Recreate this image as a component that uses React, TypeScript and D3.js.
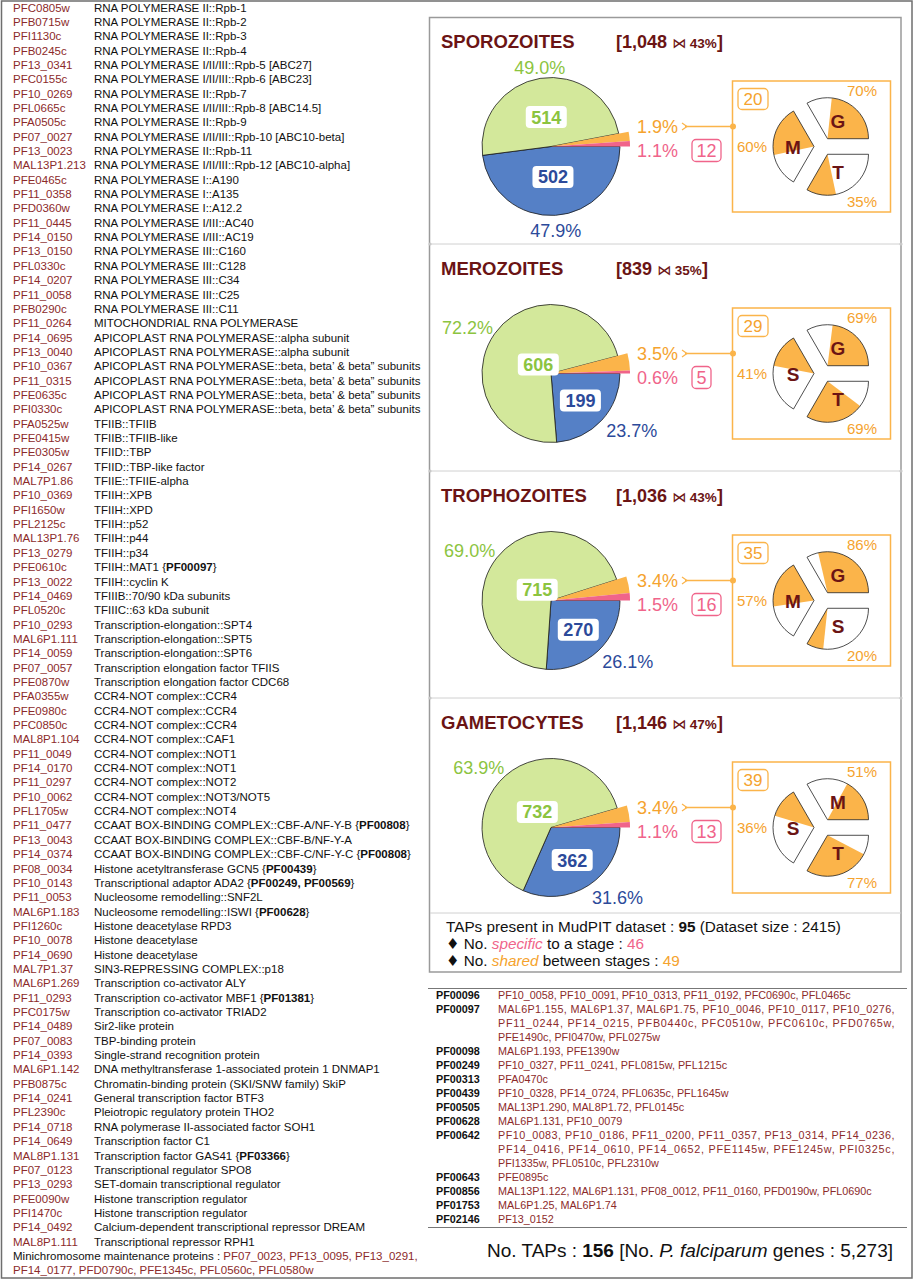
import * as d3 from "d3";

const FONT = "'Liberation Sans', Arial, sans-serif";
const RED = "#8c2a2a";
const TITLE = "#6b1414";
const GREEN_FILL = "#d3e89b";
const GREEN_TXT = "#8cc43f";
const BLUE_FILL = "#5580c6";
const BLUE_TXT = "#2c4a9a";
const ORANGE = "#fbb44a";
const ORANGE_TXT = "#f5a32e";
const PINK = "#f0648a";

// ---- left gene list ----
const geneIds = [
  "PFC0805w", "PFB0715w", "PFI1130c", "PFB0245c", "PF13_0341", "PFC0155c", "PF10_0269", "PFL0665c",
  "PFA0505c", "PF07_0027", "PF13_0023", "MAL13P1.213", "PFE0465c", "PF11_0358", "PFD0360w", "PF11_0445",
  "PF14_0150", "PF13_0150", "PFL0330c", "PF14_0207", "PF11_0058", "PFB0290c", "PF11_0264", "PF14_0695",
  "PF13_0040", "PF10_0367", "PF11_0315", "PFE0635c", "PFI0330c", "PFA0525w", "PFE0415w", "PFE0305w",
  "PF14_0267", "MAL7P1.86", "PF10_0369", "PFI1650w", "PFL2125c", "MAL13P1.76", "PF13_0279", "PFE0610c",
  "PF13_0022", "PF14_0469", "PFL0520c", "PF10_0293", "MAL6P1.111", "PF14_0059", "PF07_0057", "PFE0870w",
  "PFA0355w", "PFE0980c", "PFC0850c", "MAL8P1.104", "PF11_0049", "PF14_0170", "PF11_0297", "PF10_0062",
  "PFL1705w", "PF11_0477", "PF13_0043", "PF14_0374", "PF08_0034", "PF10_0143", "PF11_0053", "MAL6P1.183",
  "PFI1260c", "PF10_0078", "PF14_0690", "MAL7P1.37", "MAL6P1.269", "PF11_0293", "PFC0175w", "PF14_0489",
  "PF07_0083", "PF14_0393", "MAL6P1.142", "PFB0875c", "PF14_0241", "PFL2390c", "PF14_0718", "PF14_0649",
  "MAL8P1.131", "PF07_0123", "PF13_0293", "PFE0090w", "PFI1470c", "PF14_0492", "MAL8P1.111",
];

const geneDescs = [
  "RNA POLYMERASE II::Rpb-1", "RNA POLYMERASE II::Rpb-2", "RNA POLYMERASE II::Rpb-3", "RNA POLYMERASE II::Rpb-4",
  "RNA POLYMERASE I/II/III::Rpb-5 [ABC27]", "RNA POLYMERASE I/II/III::Rpb-6 [ABC23]", "RNA POLYMERASE II::Rpb-7",
  "RNA POLYMERASE I/II/III::Rpb-8 [ABC14.5]", "RNA POLYMERASE II::Rpb-9", "RNA POLYMERASE I/II/III::Rpb-10 [ABC10-beta]",
  "RNA POLYMERASE II::Rpb-11", "RNA POLYMERASE I/II/III::Rpb-12 [ABC10-alpha]", "RNA POLYMERASE I::A190",
  "RNA POLYMERASE I::A135", "RNA POLYMERASE I::A12.2", "RNA POLYMERASE I/III::AC40", "RNA POLYMERASE I/III::AC19",
  "RNA POLYMERASE III::C160", "RNA POLYMERASE III::C128", "RNA POLYMERASE III::C34", "RNA POLYMERASE III::C25",
  "RNA POLYMERASE III::C11", "MITOCHONDRIAL RNA POLYMERASE", "APICOPLAST RNA POLYMERASE::alpha subunit",
  "APICOPLAST RNA POLYMERASE::alpha subunit", "APICOPLAST RNA POLYMERASE::beta, beta’ & beta” subunits",
  "APICOPLAST RNA POLYMERASE::beta, beta’ & beta” subunits", "APICOPLAST RNA POLYMERASE::beta, beta’ & beta” subunits",
  "APICOPLAST RNA POLYMERASE::beta, beta’ & beta” subunits", "TFIIB::TFIIB", "TFIIB::TFIIB-like", "TFIID::TBP",
  "TFIID::TBP-like factor", "TFIIE::TFIIE-alpha", "TFIIH::XPB", "TFIIH::XPD", "TFIIH::p52", "TFIIH::p44",
  "TFIIH::p34", "TFIIH::MAT1 {PF00097}", "TFIIH::cyclin K", "TFIIIB::70/90 kDa subunits", "TFIIIC::63 kDa subunit",
  "Transcription-elongation::SPT4", "Transcription-elongation::SPT5", "Transcription-elongation::SPT6",
  "Transcription elongation factor TFIIS", "Transcription elongation factor CDC68", "CCR4-NOT complex::CCR4",
  "CCR4-NOT complex::CCR4", "CCR4-NOT complex::CCR4", "CCR4-NOT complex::CAF1", "CCR4-NOT complex::NOT1",
  "CCR4-NOT complex::NOT1", "CCR4-NOT complex::NOT2", "CCR4-NOT complex::NOT3/NOT5", "CCR4-NOT complex::NOT4",
  "CCAAT BOX-BINDING COMPLEX::CBF-A/NF-Y-B {PF00808}", "CCAAT BOX-BINDING COMPLEX::CBF-B/NF-Y-A",
  "CCAAT BOX-BINDING COMPLEX::CBF-C/NF-Y-C {PF00808}", "Histone acetyltransferase GCN5 {PF00439}",
  "Transcriptional adaptor ADA2 {PF00249, PF00569}", "Nucleosome remodelling::SNF2L",
  "Nucleosome remodelling::ISWI {PF00628}", "Histone deacetylase RPD3", "Histone deacetylase", "Histone deacetylase",
  "SIN3-REPRESSING COMPLEX::p18", "Transcription co-activator ALY", "Transcription co-activator MBF1 {PF01381}",
  "Transcription co-activator TRIAD2", "Sir2-like protein", "TBP-binding protein", "Single-strand recognition protein",
  "DNA methyltransferase 1-associated protein 1 DNMAP1", "Chromatin-binding protein (SKI/SNW family) SkiP",
  "General transcription factor BTF3", "Pleiotropic regulatory protein THO2", "RNA polymerase II-associated factor SOH1",
  "Transcription factor C1", "Transcription factor GAS41 {PF03366}", "Transcriptional regulator SPO8",
  "SET-domain transcriptional regulator", "Histone transcription regulator", "Histone transcription regulator",
  "Calcium-dependent transcriptional repressor DREAM", "Transcriptional repressor RPH1",
];

const mcmLabel = "Minichromosome maintenance proteins : ";
const mcmGenes = ["PF07_0023", "PF13_0095", "PF13_0291", "PF14_0177", "PFD0790c", "PFE1345c", "PFL0560c", "PFL0580w"];

// ---- stage pies ----
const stages = ["SPOROZOITES", "MEROZOITES", "TROPHOZOITES", "GAMETOCYTES"];
const stageTotals = ["1,048", "839", "1,036", "1,146"];
const stageCoverage = [43, 35, 43, 47];
const greenCounts = [514, 606, 715, 732];
const greenPct = [49.0, 72.2, 69.0, 63.9];
const blueCounts = [502, 199, 270, 362];
const bluePct = [47.9, 23.7, 26.1, 31.6];
const sharedPct = [1.9, 3.5, 3.4, 3.4];
const sharedCounts = [20, 29, 35, 39];
const specificPct = [1.1, 0.6, 1.5, 1.1];
const specificCounts = [12, 5, 16, 13];
const overlapStages = [["G", "T", "M"], ["G", "T", "S"], ["G", "S", "M"], ["M", "T", "S"]];
const overlapPct = [[70, 35, 60], [69, 69, 41], [86, 20, 57], [51, 77, 36]];

// ---- legend / totals ----
const tapsInDataset = 95;
const datasetSize = 2415;
const specificTotal = 46;
const sharedTotal = 49;
const totalTaps = 156;
const totalGenes = "5,273";

// ---- Pfam table ----
const pfamIds = ["PF00096", "PF00097", "PF00098", "PF00249", "PF00313", "PF00439", "PF00505", "PF00628", "PF00642", "PF00643", "PF00856", "PF01753", "PF02146"];
const pfamGenes = [
  ["PF10_0058", "PF10_0091", "PF10_0313", "PF11_0192", "PFC0690c", "PFL0465c"],
  ["MAL6P1.155", "MAL6P1.37", "MAL6P1.75", "PF10_0046", "PF10_0117", "PF10_0276", "PF11_0244", "PF14_0215", "PFB0440c", "PFC0510w", "PFC0610c", "PFD0765w", "PFE1490c", "PFI0470w", "PFL0275w"],
  ["MAL6P1.193", "PFE1390w"],
  ["PF10_0327", "PF11_0241", "PFL0815w", "PFL1215c"],
  ["PFA0470c"],
  ["PF10_0328", "PF14_0724", "PFL0635c", "PFL1645w"],
  ["MAL13P1.290", "MAL8P1.72", "PFL0145c"],
  ["MAL6P1.131", "PF10_0079"],
  ["PF10_0083", "PF10_0186", "PF11_0200", "PF11_0357", "PF13_0314", "PF14_0236", "PF14_0416", "PF14_0610", "PF14_0652", "PFE1145w", "PFE1245w", "PFI0325c", "PFI1335w", "PFL0510c", "PFL2310w"],
  ["PFE0895c"],
  ["MAL13P1.122", "MAL6P1.131", "PF08_0012", "PF11_0160", "PFD0190w", "PFL0690c"],
  ["MAL6P1.25", "MAL6P1.74"],
  ["PF13_0152"],
];

const ROW_Y = 11.5;
const ROW_STEP = 14.35;

function Desc({ text }: { text: string }) {
  const parts = text.split(/(\{[^}]*\})/);
  return (
    <>
      {parts.map((p, k) =>
        p.startsWith("{") ? (
          <tspan key={k}>
            {"{"}
            <tspan fontWeight="bold">{p.slice(1, -1)}</tspan>
            {"}"}
          </tspan>
        ) : (
          <tspan key={k}>{p}</tspan>
        )
      )}
    </>
  );
}

const deg = Math.PI / 180;

function StagePanel({ i }: { i: number }) {
  const top = 17 + i * 227;
  const cx = 551;
  const cy = top + 129.5;
  const R = 69;

  const data = [
    { key: "blue", v: bluePct[i] },
    { key: "green", v: greenPct[i] },
    { key: "shared", v: sharedPct[i] },
    { key: "specific", v: specificPct[i] },
  ];
  const pie = d3.pie<any>().sort(null).value((d) => d.v)
    .startAngle(Math.PI / 2).endAngle(Math.PI / 2 + 2 * Math.PI);
  const arcs = pie(data);
  const arcMain = d3.arc<any>().innerRadius(0).outerRadius(R);
  const arcOut = d3.arc<any>().innerRadius(0).outerRadius(R + 10);

  const inner = (a: any, count: number, color: string) => {
    const th = a.endAngle - a.startAngle;
    const mid = (a.startAngle + a.endAngle) / 2;
    const d = Math.min((4 * R * Math.sin(th / 2)) / (3 * th), 40);
    const x = cx + d * Math.sin(mid);
    const y = cy - d * Math.cos(mid);
    const w = String(count).length * 10 + 11;
    return (
      <g>
        <rect x={x - w / 2} y={y - 11} width={w} height={22} rx={4} fill="#fff" />
        <text x={x} y={y + 6.5} textAnchor="middle" fontSize={18} fontWeight="bold" fill={color}>{count}</text>
      </g>
    );
  };
  const outer = (a: any, pct: number, color: string) => {
    const mid = (a.startAngle + a.endAngle) / 2;
    const s = Math.sin(mid);
    const c = -Math.cos(mid);
    const r = c < 0 ? 71 : 75;
    const anchor = s > 0.35 ? "start" : s < -0.35 ? "end" : "middle";
    return (
      <text x={cx + r * s} y={cy + r * c} dy={`${0.35 + 0.5 * c}em`} textAnchor={anchor}
        fontSize={18} fill={color}>{pct.toFixed(1)}%</text>
    );
  };

  // inset overlap pie
  const C = { x: 823, y: cy };
  const r2 = 41;
  const boom = 9;
  const slots = [[-30, 90], [90, 210], [210, 330]];
  const segArc = d3.arc<any>().innerRadius(0).outerRadius(r2);

  const sharedY = cy - 20;
  const specY = cy + 4;
  const pinkW = String(specificCounts[i]).length * 10 + 9;

  return (
    <g>
      <text x={441} y={top + 31} fontSize={18.5} fontWeight="bold" fill={TITLE}>{stages[i]}</text>
      <text x={616} y={top + 31} fill={TITLE} fontWeight="bold">
        <tspan fontSize={18}>[{stageTotals[i]} </tspan>
        <tspan fontSize={14} fontWeight="normal" fontFamily="'DejaVu Sans'">⋈</tspan>
        <tspan fontSize={13.5}> {stageCoverage[i]}%</tspan>
        <tspan fontSize={18}>]</tspan>
      </text>

      {arcs.slice(0, 2).map((a, k) => (
        <path key={k} transform={`translate(${cx},${cy})`} d={arcMain(a) as string}
          fill={k === 0 ? BLUE_FILL : GREEN_FILL} stroke="#1a1a1a" strokeWidth={0.8} />
      ))}
      <path transform={`translate(${cx},${cy})`} d={arcOut(arcs[2]) as string} fill={ORANGE} />
      <path transform={`translate(${cx},${cy})`} d={arcOut(arcs[3]) as string} fill={PINK} />

      {inner(arcs[1], greenCounts[i], GREEN_TXT)}
      {inner(arcs[0], blueCounts[i], BLUE_TXT)}
      {outer(arcs[1], greenPct[i], GREEN_TXT)}
      {outer(arcs[0], bluePct[i], BLUE_TXT)}

      <text x={637} y={sharedY + 6.5} fontSize={18} fill={ORANGE_TXT}>{sharedPct[i].toFixed(1)}%</text>
      <text x={637} y={specY + 6.5} fontSize={18} fill={PINK}>{specificPct[i].toFixed(1)}%</text>
      <rect x={692} y={specY - 11} width={pinkW} height={22} rx={4} fill="#fff" stroke={PINK} strokeWidth={1.3} />
      <text x={692 + pinkW / 2} y={specY + 6.5} textAnchor="middle" fontSize={18} fill={PINK}>{specificCounts[i]}</text>

      <path d={`M682,${sharedY - 3.5} L687,${sharedY} L682,${sharedY + 3.5}`} fill="none" stroke={ORANGE} strokeWidth={1.2} />
      <line x1={685} x2={733} y1={sharedY} y2={sharedY} stroke={ORANGE} strokeWidth={1.3} />
      <circle cx={733} cy={sharedY} r={3} fill={ORANGE} />

      <rect x={732.5} y={top + 64} width={158} height={131} fill="none" stroke={ORANGE} strokeWidth={1.5} />
      <rect x={738} y={top + 71.5} width={30} height={21} rx={4} fill="#fff" stroke={ORANGE} strokeWidth={1.3} />
      <text x={753} y={top + 88} textAnchor="middle" fontSize={17} fill={ORANGE_TXT}>{sharedCounts[i]}</text>

      {slots.map(([a0, a1], j) => {
        const mid = ((a0 + a1) / 2) * deg;
        const ox = C.x + boom * Math.sin(mid);
        const oy = C.y - boom * Math.cos(mid);
        const f = overlapPct[i][j] / 100;
        const s = Math.sin(mid);
        const lx = C.x + 64 * s + (s > 0.1 ? 7 : s < -0.1 ? -7 : 0);
        const ly = C.y - 64 * Math.cos(mid);
        return (
          <g key={j}>
            <g transform={`translate(${ox},${oy})`}>
              <path d={segArc({ startAngle: a0 * deg, endAngle: a1 * deg }) as string} fill="#fff" />
              <path d={segArc({ startAngle: (a1 - f * (a1 - a0)) * deg, endAngle: a1 * deg }) as string} fill={ORANGE} />
              <path d={segArc({ startAngle: a0 * deg, endAngle: a1 * deg }) as string} fill="none" stroke="#222" strokeWidth={0.8} />
            </g>
            <text x={C.x + 30 * s} y={C.y - 30 * Math.cos(mid) + 7} textAnchor="middle" fontSize={19}
              fontWeight="bold" fill={TITLE}>{overlapStages[i][j]}</text>
            <text x={lx} y={ly + 5} textAnchor="middle" fontSize={15} fill={ORANGE_TXT}>{overlapPct[i][j]}%</text>
          </g>
        );
      })}
    </g>
  );
}

export default function App() {
  // table line layout: 6 genes per line
  const tableLines: { id?: string; text: string; justify: boolean }[] = [];
  pfamIds.forEach((id, k) => {
    const genes = pfamGenes[k];
    const n = Math.ceil(genes.length / 6);
    for (let l = 0; l < n; l++) {
      const chunk = genes.slice(l * 6, l * 6 + 6);
      const last = l === n - 1;
      tableLines.push({ id: l === 0 ? id : undefined, text: chunk.join(", ") + (last ? "" : ","), justify: !last });
    }
  });

  const seps = [244, 471, 698];

  return (
    <svg width={914} height={1280} style={{ position: "absolute", left: 0, top: 0, background: "#fff" }} fontFamily={FONT}>
      <rect x={1.5} y={1} width={910.5} height={1277} fill="none" stroke="#6e6e6e" strokeWidth={1.5} />

      {/* gene list */}
      <g fontSize={11.5}>
        {geneIds.map((id, k) => (
          <g key={id + k}>
            <text x={13} y={ROW_Y + k * ROW_STEP} fill={RED}>{id}</text>
            <text x={94} y={ROW_Y + k * ROW_STEP} fill="#111"><Desc text={geneDescs[k]} /></text>
          </g>
        ))}
        <text x={13} y={ROW_Y + geneIds.length * ROW_STEP} fill="#111">
          {mcmLabel}<tspan fill={RED}>{mcmGenes.slice(0, 3).join(", ") + ","}</tspan>
        </text>
        <text x={13} y={ROW_Y + (geneIds.length + 1) * ROW_STEP} fill={RED}>{mcmGenes.slice(3).join(", ")}</text>
      </g>

      {/* right panel */}
      <rect x={429.5} y={17.5} width={471.5} height={954.5} fill="none" stroke="#9a9a9a" strokeWidth={1.5} />
      {seps.map((y) => (
        <g key={y}>
          <line x1={430} x2={901} y1={y} y2={y} stroke="#d0d0d0" strokeWidth={1} />
          <circle cx={430} cy={y} r={1.6} fill="#c8c8c8" />
          <circle cx={901} cy={y} r={1.6} fill="#c8c8c8" />
        </g>
      ))}
      <line x1={430} x2={901} y1={913} y2={913} stroke="#d0d0d0" strokeWidth={1} />

      {stages.map((s, k) => <StagePanel key={s} i={k} />)}

      <g fontSize={15.3} fill="#111">
        <text x={446} y={932}>TAPs present in MudPIT dataset : <tspan fontWeight="bold">{tapsInDataset}</tspan> (Dataset size : {datasetSize})</text>
        <text x={446} y={949}><tspan fontFamily="'DejaVu Sans'" fontSize={15}>♦</tspan> No. <tspan fontStyle="italic" fill={PINK}>specific</tspan> to a stage : <tspan fill={PINK}>{specificTotal}</tspan></text>
        <text x={446} y={966}><tspan fontFamily="'DejaVu Sans'" fontSize={15}>♦</tspan> No. <tspan fontStyle="italic" fill={ORANGE_TXT}>shared</tspan> between stages : <tspan fill={ORANGE_TXT}>{sharedTotal}</tspan></text>
      </g>

      {/* Pfam table */}
      <line x1={428} x2={907} y1={988.5} y2={988.5} stroke="#777" strokeWidth={1.2} />
      <line x1={428} x2={907} y1={1227.5} y2={1227.5} stroke="#777" strokeWidth={1.2} />
      <g fontSize={10.8}>
        {tableLines.map((ln, k) => (
          <g key={k}>
            {ln.id && <text x={436} y={999 + k * 14.02} fontWeight="bold" fill="#111">{ln.id}</text>}
            <text x={498} y={999 + k * 14.02} fill={RED}
              {...(ln.justify ? { textLength: 396.5, lengthAdjust: "spacing" } : {})}>{ln.text}</text>
          </g>
        ))}
      </g>

      <text x={487} y={1257} fontSize={19} fill="#111" textLength={406} lengthAdjust="spacing">
        No.  TAPs : <tspan fontWeight="bold">{totalTaps}</tspan> [No. <tspan fontStyle="italic">P. falciparum</tspan> genes : {totalGenes}]
      </text>
    </svg>
  );
}
